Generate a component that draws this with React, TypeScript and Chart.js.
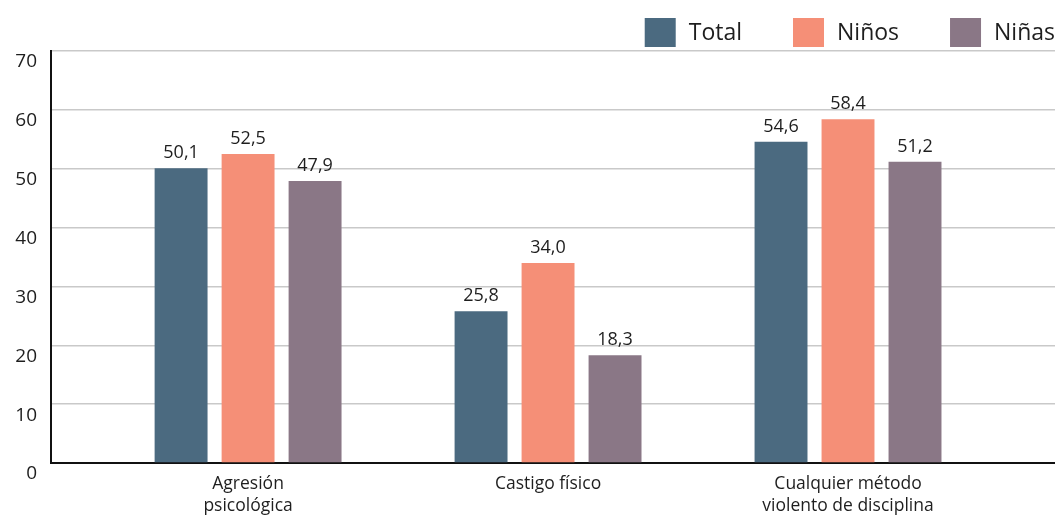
import React, { useEffect, useRef } from "react";
import { Chart, registerables } from "chart.js";

Chart.register(...registerables);

const categories: (string | string[])[] = [
  ["Agresión", "psicológica"],
  "Castigo físico",
  ["Cualquier método", "violento de disciplina"],
];
const seriesNames = ["Total", "Niños", "Niñas"];
const seriesColors = ["#4b6a80", "#f58f77", "#8a7786"];
const totalValues = [50.1, 25.8, 54.6];
const ninosValues = [52.5, 34.0, 58.4];
const ninasValues = [47.9, 18.3, 51.2];
const yTicks = [0, 10, 20, 30, 40, 50, 60, 70];

const FONT = "'Open Sans', 'DejaVu Sans', sans-serif";
const TEXT = "#1e1e1e";

const valueLabels = {
  id: "valueLabels",
  afterDatasetsDraw(chart: any) {
    const ctx = chart.ctx;
    ctx.save();
    ctx.font = `18px ${FONT}`;
    ctx.fillStyle = TEXT;
    ctx.textAlign = "center";
    ctx.textBaseline = "alphabetic";
    chart.data.datasets.forEach((ds: any, i: number) => {
      const meta = chart.getDatasetMeta(i);
      meta.data.forEach((el: any, j: number) => {
        const v = ds.data[j].y as number;
        ctx.fillText(v.toFixed(1).replace(".", ","), el.x, el.y - 10);
      });
    });
    ctx.restore();
  },
};

const customLegend = {
  id: "customLegend",
  afterDraw(chart: any) {
    const ctx = chart.ctx;
    ctx.save();
    ctx.font = `23px ${FONT}`;
    ctx.textBaseline = "middle";
    ctx.textAlign = "left";
    const boxW = 31;
    const boxH = 29;
    const textGap = 13;
    const itemGap = 51;
    const top = 18;
    const ds = chart.data.datasets;
    const widths = ds.map((d: any) => ctx.measureText(d.label).width);
    let total = 0;
    widths.forEach((w: number, i: number) => {
      total += boxW + textGap + w + (i < widths.length - 1 ? itemGap : 0);
    });
    let x = chart.width - total;
    ds.forEach((d: any, i: number) => {
      ctx.fillStyle = d.backgroundColor;
      ctx.fillRect(x, top, boxW, boxH);
      ctx.fillStyle = TEXT;
      ctx.fillText(d.label, x + boxW + textGap, top + boxH / 2 + 1);
      x += boxW + textGap + widths[i] + itemGap;
    });
    ctx.restore();
  },
};

export default function App() {
  const ref = useRef<HTMLCanvasElement | null>(null);

  useEffect(() => {
    if (!ref.current) return;
    const seriesValues = [totalValues, ninosValues, ninasValues];
    const chart = new Chart(ref.current, {
      type: "bar",
      data: {
        datasets: seriesNames.map((name, i) => ({
          label: name,
          data: seriesValues[i].map((v, j) => ({ x: j, y: v })),
          backgroundColor: seriesColors[i],
          borderWidth: 0,
          categoryPercentage: 0.67,
          barPercentage: 0.79,
        })),
      },
      options: {
        animation: false,
        responsive: false,
        layout: { padding: { top: 51, right: 0, left: 0, bottom: 0 } },
        plugins: {
          legend: { display: false },
          tooltip: { enabled: false },
        },
        scales: {
          x: {
            type: "linear",
            offset: false,
            min: -0.657,
            max: 2.69,
            grid: { display: false, drawTicks: false },
            border: { display: true, color: "#111", width: 2 },
            afterBuildTicks(scale: any) {
              scale.ticks = categories.map((_, i) => ({ value: i }));
            },
            afterFit(scale: any) {
              scale.height = 53;
            },
            ticks: {
              autoSkip: false,
              maxRotation: 0,
              padding: 10,
              color: TEXT,
              font: { family: FONT, size: 17.5, lineHeight: 1.25 },
              callback: (v: any) => {
                const i = Number(v);
                return Number.isInteger(i) && categories[i] !== undefined ? categories[i] : "";
              },
            },
          },
          y: {
            type: "linear",
            min: 0,
            max: 70,
            afterBuildTicks(scale: any) {
              scale.ticks = yTicks.map((v) => ({ value: v }));
            },
            afterFit(scale: any) {
              scale.width = 51;
            },
            grid: { color: "#c9c9c9", lineWidth: 1.5, drawTicks: false },
            border: { display: true, color: "#111", width: 2 },
            ticks: {
              padding: 14,
              labelOffset: 11,
              color: TEXT,
              font: { family: FONT, size: 19 },
            },
          },
        },
      },
      plugins: [valueLabels, customLegend],
    } as any);
    return () => chart.destroy();
  }, []);

  return (
    <div style={{ position: "fixed", left: 0, top: 0, width: 1055, height: 516, background: "#fff" }}>
      <canvas ref={ref} width={1055} height={516} style={{ display: "block" }} />
    </div>
  );
}
